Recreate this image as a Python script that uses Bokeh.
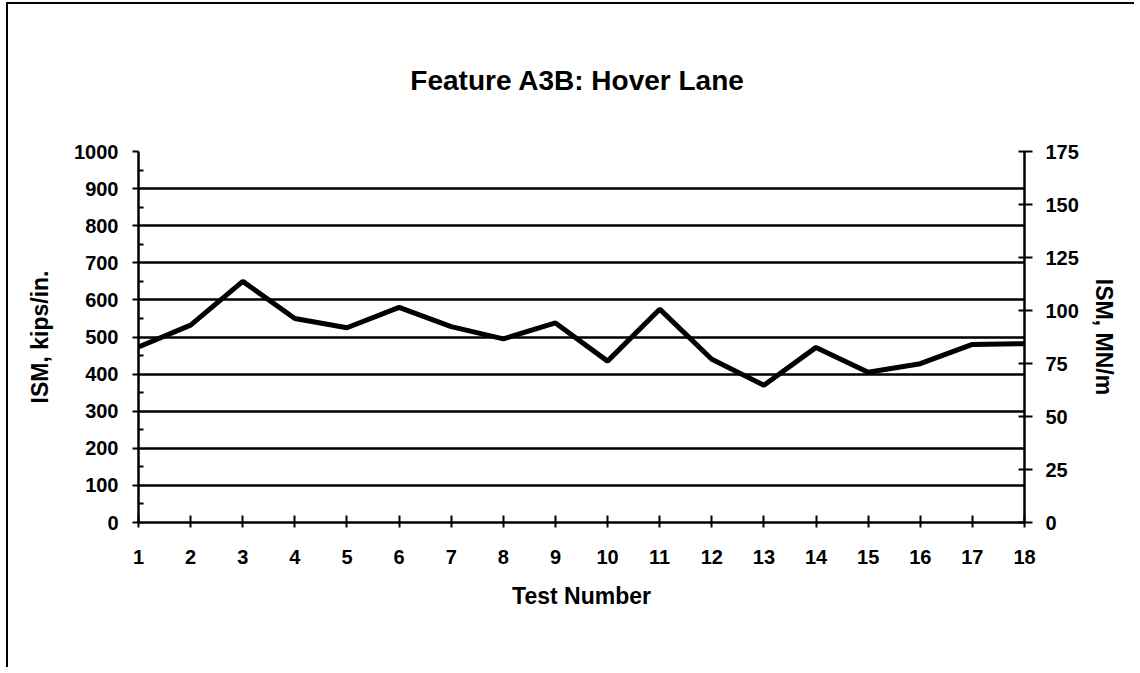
from bokeh.plotting import figure
from bokeh.models import LinearAxis, Range1d, FixedTicker, ColumnDataSource
from bokeh.embed import file_html
from bokeh.resources import INLINE

tests = list(range(1, 19))
ism_kips = [473, 532, 650, 550, 525, 580, 528, 495, 538, 435, 575, 440, 370, 472, 405, 428, 480, 482]
left_ticks = [0, 100, 200, 300, 400, 500, 600, 700, 800, 900, 1000]
right_ticks = [0, 25, 50, 75, 100, 125, 150, 175]

FONT = "Liberation Sans"

p = figure(width=1128, height=665, output_backend="svg", toolbar_location=None,
           x_range=Range1d(1, 18), y_range=Range1d(0, 1000),
           min_border_left=130, min_border_right=112, min_border_top=147, min_border_bottom=147)
p.styles = {"border-left": "2px solid black", "border-top": "2px solid black",
            "margin-left": "6px", "margin-top": "2px"}
p.outline_line_color = None
p.background_fill_color = "white"
p.border_fill_color = "white"

p.title.text = "Feature A3B:  Hover Lane"
p.title.align = "center"
p.title.text_font = FONT
p.title.text_font_size = "28px"
p.title.text_font_style = "bold"
p.title.text_color = "black"
p.title.standoff = 112

src = ColumnDataSource(dict(x=tests, y=ism_kips))
p.line("x", "y", source=src, line_color="black", line_width=5)

p.xgrid.grid_line_color = None
p.ygrid.ticker = FixedTicker(ticks=left_ticks)
p.ygrid.grid_line_color = "black"
p.ygrid.grid_line_width = 2.5
p.ygrid.grid_line_alpha = 1.0

# left axis
ya = p.yaxis[0]
ya.ticker = FixedTicker(ticks=left_ticks, minor_ticks=[v + 50 for v in left_ticks[:-1]])
ya.axis_label = "ISM, kips/in."
ya.axis_line_width = 2.5
ya.major_tick_out = 6
ya.major_tick_in = 0
ya.major_tick_line_width = 2
ya.minor_tick_in = 5
ya.minor_tick_out = 0
ya.minor_tick_line_width = 2
ya.major_label_standoff = 14
ya.axis_label_standoff = 18

# bottom axis
xa = p.xaxis[0]
xa.ticker = FixedTicker(ticks=tests)
xa.axis_label = "Test Number"
xa.axis_line_width = 2.5
xa.major_tick_out = 5
xa.major_tick_in = 7
xa.major_tick_line_width = 2
xa.minor_tick_line_color = None
xa.major_label_standoff = 22
xa.axis_label_standoff = 16

# right axis
p.extra_y_ranges = {"mn": Range1d(0, 175)}
ra = LinearAxis(y_range_name="mn", ticker=FixedTicker(ticks=right_ticks), axis_label="ISM, MN/m")
ra.axis_line_width = 2.5
ra.major_tick_out = 8
ra.major_tick_in = 6
ra.major_tick_line_width = 2
ra.minor_tick_line_color = None
ra.major_label_standoff = 13
ra.axis_label_standoff = 9
p.add_layout(ra, "right")

for ax in [ya, xa, ra]:
    ax.major_label_text_font = FONT
    ax.major_label_text_font_size = "20px"
    ax.major_label_text_font_style = "bold"
    ax.major_label_text_color = "black"
    ax.axis_label_text_font = FONT
    ax.axis_label_text_font_size = "23px"
    ax.axis_label_text_font_style = "bold"
    ax.axis_label_text_color = "black"
    ax.axis_line_color = "black"
    ax.major_tick_line_color = "black"

open("out.html", "w").write(file_html(p, INLINE))
